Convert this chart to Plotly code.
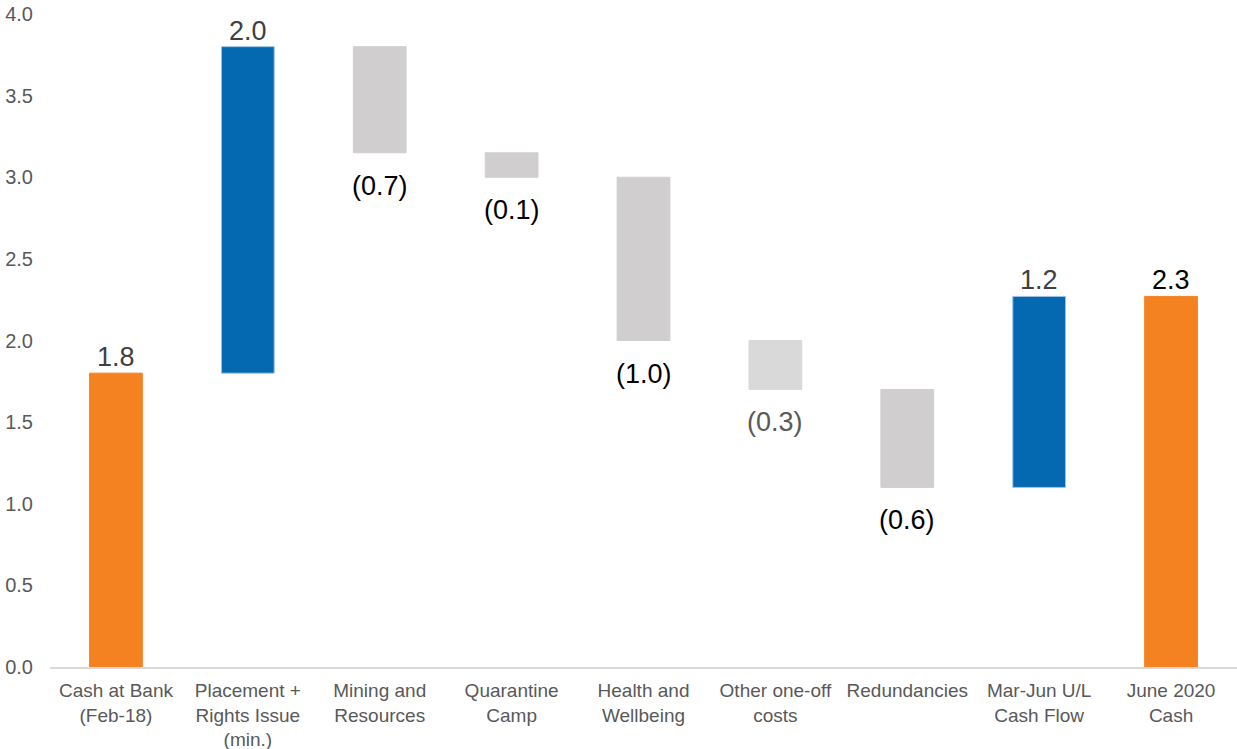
import plotly.graph_objects as go

categories = ["Cash at Bank<br>(Feb-18)", "Placement +<br>Rights Issue<br>(min.)", "Mining and<br>Resources",
              "Quarantine<br>Camp", "Health and<br>Wellbeing", "Other one-off<br>costs", "Redundancies",
              "Mar-Jun U/L<br>Cash Flow", "June 2020<br>Cash"]
measures = ["total", "relative", "relative", "relative", "relative", "relative", "relative", "relative", "total"]
values = [1.8, 2.0, -0.65, -0.15, -1.0, -0.3, -0.6, 1.17, 2.27]
bar_colors = ["#F58220", "#0569B2", "#D0CECF", "#D0CECF", "#D0CECF", "#D9D9D9", "#D0CECF", "#0569B2", "#F58220"]
label_colors = ["#404040", "#404040", "#000000", "#000000", "#000000", "#595959", "#000000", "#404040", "#000000"]
y_ticks = [0.0, 0.5, 1.0, 1.5, 2.0, 2.5, 3.0, 3.5, 4.0]

bases, heights, ends = [], [], []
running = 0.0
for m, v in zip(measures, values):
    if m == "total":
        bases.append(0.0)
        heights.append(v)
        running = v
    else:
        bases.append(running)
        heights.append(v)
        running += v
    ends.append(bases[-1] + heights[-1])

def fmt(v):
    return f"({abs(v):.1f})" if v < 0 else f"{v:.1f}"

line_cols = ["#9DC3E6" if c == "#0569B2" else c for c in bar_colors]

fig = go.Figure()
fig.add_trace(go.Bar(
    x=categories, y=heights, base=bases,
    marker=dict(color=bar_colors, line=dict(color=line_cols, width=1)),
    width=0.4, hoverinfo="skip",
))

for cat, v, e, col in zip(categories, values, ends, label_colors):
    neg = v < 0
    fig.add_annotation(
        x=cat, y=e, text=fmt(v), showarrow=False,
        yanchor="top" if neg else "bottom",
        yshift=-16 if neg else -1,
        font=dict(family="Liberation Sans, Arial", size=27, color=col),
    )

fig.update_layout(
    width=1237, height=749,
    margin=dict(l=50, r=0, t=14, b=82),
    paper_bgcolor="white", plot_bgcolor="white",
    showlegend=False,
    font=dict(family="Liberation Sans, Arial", color="#595959"),
    xaxis=dict(
        showline=True, linecolor="#D9D9D9", linewidth=2,
        tickfont=dict(size=19, color="#595959"),
        showgrid=False, ticks="", ticklabelstandoff=5,
    ),
    yaxis=dict(
        range=[0, 4.0], tickvals=y_ticks, ticktext=[f"{t:.1f}" for t in y_ticks],
        showgrid=False, zeroline=False, showline=False,
        tickfont=dict(size=20, color="#595959"),
        ticklabelstandoff=16,
    ),
)

fig.write_html("out.html")
